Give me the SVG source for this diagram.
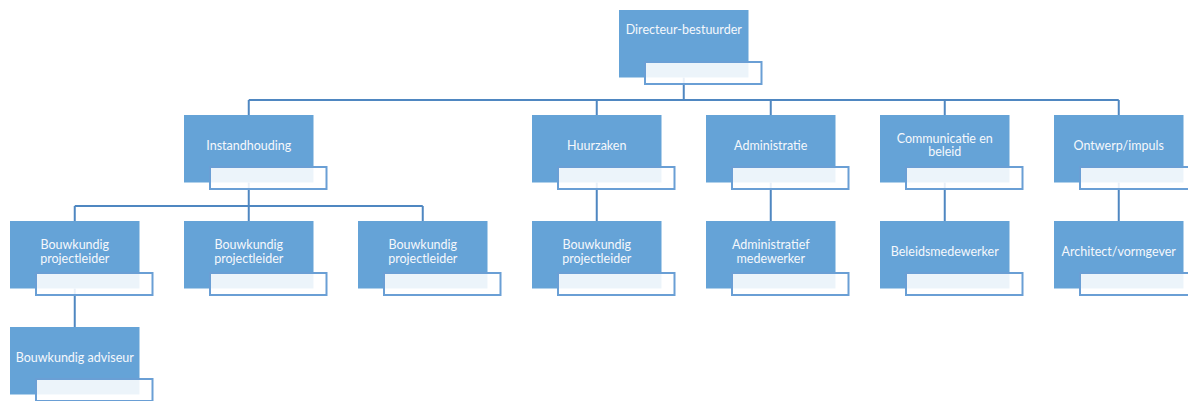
<svg xmlns="http://www.w3.org/2000/svg" width="1188" height="401" viewBox="0 0 1188 401">
<style>
.box{fill:#65a3d7;}
.lbl{fill:#ffffff;fill-opacity:0.88;stroke:#6a9fd5;stroke-width:2;}
.t{font-family:Lato,"Open Sans",sans-serif;font-size:12.5px;fill:#f5f8fc;text-anchor:middle;}
.c{fill:none;stroke:#4f87c1;stroke-width:2;}
</style>
<rect width="1188" height="401" fill="#ffffff"/>
<g id="connectors">
<path class="c" d="M683.75 77.5V100M248.75 100H1118.75M248.75 100V115M596.75 100V115M770.75 100V115M944.75 100V115M1118.75 100V115"/>
<path class="c" d="M248.75 182.5V206M74.75 206H422.75M74.75 206V221M248.75 206V221M422.75 206V221"/>
<path class="c" d="M596.75 182.5V221M770.75 182.5V221M944.75 182.5V221M1118.75 182.5V221"/>
<path class="c" d="M74.75 288.5V327"/>
</g>
<g id="n-directeur"><rect class="box" x="619" y="10" width="129.5" height="67.5"/><rect class="lbl" x="645" y="62" width="116.5" height="22"/><text class="t" x="683.75" y="34">Directeur-bestuurder</text></g>
<g id="n-instandhouding"><rect class="box" x="184" y="115" width="129.5" height="67.5"/><rect class="lbl" x="210" y="167" width="116.5" height="22"/><text class="t" x="248.75" y="149.5">Instandhouding</text></g>
<g id="n-huurzaken"><rect class="box" x="532" y="115" width="129.5" height="67.5"/><rect class="lbl" x="558" y="167" width="116.5" height="22"/><text class="t" x="596.75" y="149.5">Huurzaken</text></g>
<g id="n-administratie"><rect class="box" x="706" y="115" width="129.5" height="67.5"/><rect class="lbl" x="732" y="167" width="116.5" height="22"/><text class="t" x="770.75" y="149.5">Administratie</text></g>
<g id="n-communicatie"><rect class="box" x="880" y="115" width="129.5" height="67.5"/><rect class="lbl" x="906" y="167" width="116.5" height="22"/><text class="t" x="944.75" y="143"><tspan x="944.75">Communicatie en</tspan><tspan x="944.75" dy="13">beleid</tspan></text></g>
<g id="n-ontwerp"><rect class="box" x="1054" y="115" width="129.5" height="67.5"/><rect class="lbl" x="1080" y="167" width="116.5" height="22"/><text class="t" x="1118.75" y="149.5">Ontwerp/impuls</text></g>
<g id="n-bpl1"><rect class="box" x="10" y="221" width="129.5" height="67.5"/><rect class="lbl" x="36" y="273" width="116.5" height="22"/><text class="t" x="74.75" y="248.5"><tspan x="74.75">Bouwkundig</tspan><tspan x="74.75" dy="14">projectleider</tspan></text></g>
<g id="n-bpl2"><rect class="box" x="184" y="221" width="129.5" height="67.5"/><rect class="lbl" x="210" y="273" width="116.5" height="22"/><text class="t" x="248.75" y="248.5"><tspan x="248.75">Bouwkundig</tspan><tspan x="248.75" dy="14">projectleider</tspan></text></g>
<g id="n-bpl3"><rect class="box" x="358" y="221" width="129.5" height="67.5"/><rect class="lbl" x="384" y="273" width="116.5" height="22"/><text class="t" x="422.75" y="248.5"><tspan x="422.75">Bouwkundig</tspan><tspan x="422.75" dy="14">projectleider</tspan></text></g>
<g id="n-bpl4"><rect class="box" x="532" y="221" width="129.5" height="67.5"/><rect class="lbl" x="558" y="273" width="116.5" height="22"/><text class="t" x="596.75" y="248.5"><tspan x="596.75">Bouwkundig</tspan><tspan x="596.75" dy="14">projectleider</tspan></text></g>
<g id="n-admmw"><rect class="box" x="706" y="221" width="129.5" height="67.5"/><rect class="lbl" x="732" y="273" width="116.5" height="22"/><text class="t" x="770.75" y="248.5"><tspan x="770.75">Administratief</tspan><tspan x="770.75" dy="14">medewerker</tspan></text></g>
<g id="n-beleid"><rect class="box" x="880" y="221" width="129.5" height="67.5"/><rect class="lbl" x="906" y="273" width="116.5" height="22"/><text class="t" x="944.75" y="255.5">Beleidsmedewerker</text></g>
<g id="n-architect"><rect class="box" x="1054" y="221" width="129.5" height="67.5"/><rect class="lbl" x="1080" y="273" width="116.5" height="22"/><text class="t" x="1118.75" y="255.5">Architect/vormgever</text></g>
<g id="n-adviseur"><rect class="box" x="10" y="327" width="129.5" height="67.5"/><rect class="lbl" x="36" y="379" width="116.5" height="22"/><text class="t" x="74.75" y="361.5">Bouwkundig adviseur</text></g>
</svg>
